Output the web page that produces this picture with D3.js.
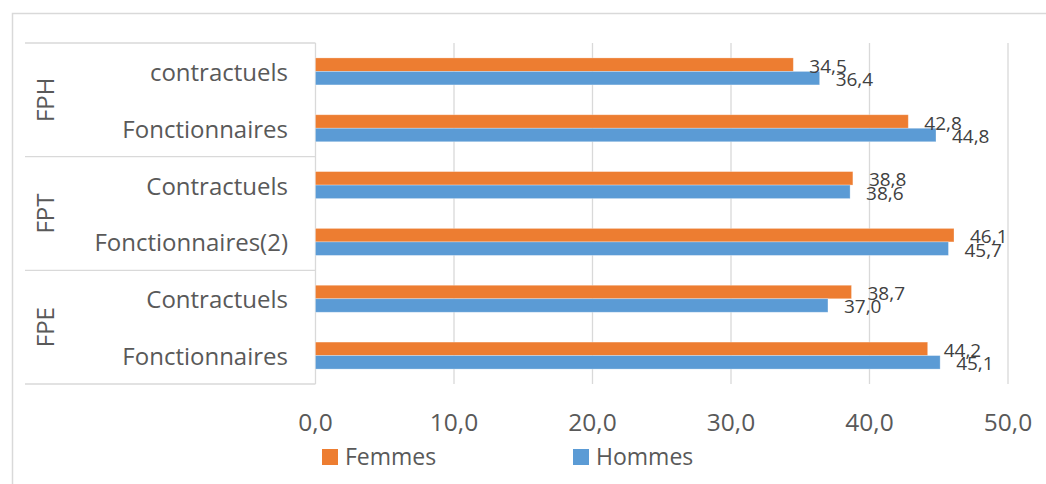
<!DOCTYPE html>
<html>
<head>
<meta charset="utf-8">
<script src="https://cdn.jsdelivr.net/npm/d3@7"></script>
<style>
    body { margin: 0; background: #fff; }
    text { font-family: "Open Sans", sans-serif; fill: #595959; }
</style>
</head>
<body>
<div id="chart"></div>
<script>
// data, top row first
const groups = ["FPH", "FPH", "FPT", "FPT", "FPE", "FPE"];
const categories = ["contractuels", "Fonctionnaires", "Contractuels", "Fonctionnaires(2)", "Contractuels", "Fonctionnaires"];
const series = ["Femmes", "Hommes"];
const femmes = [34.5, 42.8, 38.8, 46.1, 38.7, 44.2];
const hommes = [36.4, 44.8, 38.6, 45.7, 37.0, 45.1];
const xTicks = [0, 10, 20, 30, 40, 50];

const colors = { Femmes: "#ED7D31", Hommes: "#5B9BD5" };

class BarChart {
    constructor(config) {
        this.config = config;
        this.svg = null;
        this.xScale = null;
        this.yScale = null;
        this.subScale = null;

        this.createSvg();
        this.createScales();
    }

    createSvg() {
        this.svg = d3.select(this.config.div)
            .append("svg")
            .attr("width", this.config.width)
            .attr("height", this.config.height);

        // outer chart frame (cut at right and bottom)
        this.svg.append("rect")
            .attr("x", 12.5).attr("y", 13.5)
            .attr("width", 1100).attr("height", 600)
            .attr("fill", "none")
            .attr("stroke", "#d9d9d9")
            .attr("stroke-width", 1.5);
    }

    createScales() {
        const c = this.config;
        this.xScale = d3.scaleLinear().domain([0, 50]).range([c.left, c.right]);
        this.yScale = d3.scaleBand()
            .domain(d3.range(categories.length))
            .range([c.top, c.bottom])
            .paddingInner(0.525)
            .paddingOuter(0.2625);
        this.subScale = d3.scaleBand().domain(series).range([0, this.yScale.bandwidth()]);
    }

    render() {
        const c = this.config;
        const x = this.xScale, y = this.yScale, sub = this.subScale;
        const rows = categories.map((cat, i) => ({ i, cat, group: groups[i], Femmes: femmes[i], Hommes: hommes[i] }));

        // gridlines
        this.svg.append("g")
            .selectAll("line")
            .data(xTicks.slice(1))
            .enter().append("line")
            .attr("x1", d => x(d)).attr("x2", d => x(d))
            .attr("y1", c.top).attr("y2", c.bottom)
            .attr("stroke", "#d9d9d9")
            .attr("stroke-width", 1.3);

        // category axis line
        this.svg.append("line")
            .attr("x1", x(0)).attr("x2", x(0))
            .attr("y1", c.top).attr("y2", c.bottom)
            .attr("stroke", "#d9d9d9").attr("stroke-width", 1.3);

        // group separators of the multi-level axis
        const step = y.step();
        const seps = [0, 2, 4, 6].map(k => c.top + k * step);
        this.svg.append("g")
            .selectAll("line")
            .data(seps)
            .enter().append("line")
            .attr("x1", 25).attr("x2", x(0))
            .attr("y1", d => d).attr("y2", d => d)
            .attr("stroke", "#d9d9d9").attr("stroke-width", 1.3);

        // bars
        const bar = this.svg.append("g")
            .selectAll("g")
            .data(rows)
            .enter().append("g")
            .attr("transform", d => `translate(0,${y(d.i)})`);

        bar.selectAll("rect")
            .data(d => series.map(s => ({ s, v: d[s] })))
            .enter().append("rect")
            .attr("x", x(0))
            .attr("y", d => sub(d.s))
            .attr("width", d => x(d.v) - x(0))
            .attr("height", sub.bandwidth())
            .attr("fill", d => colors[d.s])
            .attr("stroke", "#fff")
            .attr("stroke-opacity", 0.35)
            .attr("stroke-width", 0.8);

        // data labels
        bar.selectAll("text")
            .data(d => series.map(s => ({ s, v: d[s] })))
            .enter().append("text")
            .attr("x", d => x(d.v) + 16)
            .attr("y", d => sub(d.s) + sub.bandwidth() / 2 + 1)
            .attr("dominant-baseline", "central")
            .style("font-size", "19px")
            .style("fill", "#404040")
            .text(d => d3.format(".1f")(d.v).replace(".", ","));

        // category labels
        this.svg.append("g")
            .selectAll("text")
            .data(rows)
            .enter().append("text")
            .attr("x", 288)
            .attr("y", d => y(d.i) + y.bandwidth() / 2)
            .attr("text-anchor", "end")
            .attr("dominant-baseline", "central")
            .style("font-size", "24px")
            .text(d => d.cat);

        // group labels
        const groupNames = Array.from(new Set(groups));
        this.svg.append("g")
            .selectAll("text")
            .data(groupNames)
            .enter().append("text")
            .attr("transform", g => {
                const idx = groups.map((v, i) => v === g ? i : -1).filter(i => i >= 0);
                const mid = c.top + (d3.min(idx) + d3.max(idx) + 1) / 2 * step;
                return `translate(44,${mid}) rotate(-90)`;
            })
            .attr("text-anchor", "middle")
            .attr("dominant-baseline", "central")
            .style("font-size", "24px")
            .text(g => g);

        // value axis
        this.svg.append("g")
            .selectAll("text")
            .data(xTicks)
            .enter().append("text")
            .attr("x", d => x(d))
            .attr("y", 421)
            .attr("text-anchor", "middle")
            .attr("dominant-baseline", "central")
            .style("font-size", "24.5px")
            .text(d => d3.format(".1f")(d).replace(".", ","));

        // legend
        const legendX = { Femmes: 322, Hommes: 573 };
        const legend = this.svg.append("g")
            .selectAll("g")
            .data(series)
            .enter().append("g")
            .attr("transform", s => `translate(${legendX[s]},449)`);
        legend.append("rect")
            .attr("width", 16).attr("height", 16)
            .attr("fill", s => colors[s]);
        legend.append("text")
            .attr("x", 23).attr("y", 16)
            .style("font-size", "23px")
            .text(s => s);
    }
}

const chart = new BarChart({
    div: "#chart",
    width: 1046, height: 484,
    left: 315.5, right: 1008,
    top: 43, bottom: 384
});
chart.render();
</script>
</body>
</html>
